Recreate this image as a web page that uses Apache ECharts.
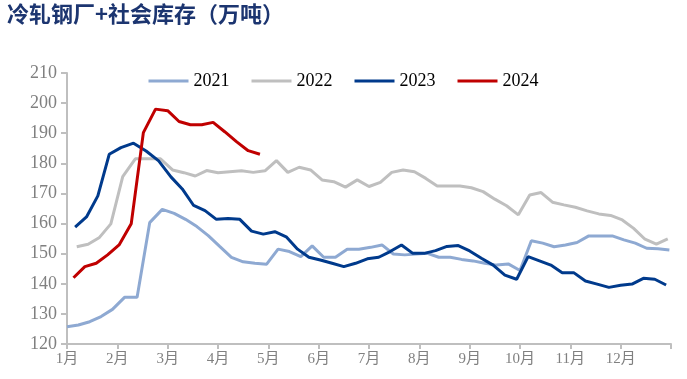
<!DOCTYPE html>
<html>
<head>
<meta charset="utf-8">
<script src="https://cdn.jsdelivr.net/npm/echarts@6/dist/echarts.min.js"></script>
<style>html,body{margin:0;padding:0;background:#fff}#c{width:687px;height:379px}</style>
</head>
<body>
<div id="c"></div>
<script>
const seriesNames = ['2021', '2022', '2023', '2024'];
const startDates = ['2021-01-01', '2022-01-07', '2023-01-06', '2024-01-05'];
const monthLabels = ['1月','2月','3月','4月','5月','6月','7月','8月','9月','10月','11月','12月'];
const v2021 = [125.7,126.3,127.4,129.1,131.5,135.5,135.5,160.3,164.7,163.4,161.4,159.0,156.0,152.4,148.8,147.3,146.8,146.5,151.5,150.7,149.0,152.6,148.8,148.8,151.5,151.5,152.1,152.9,149.9,149.6,149.9,150.1,148.8,148.8,148.1,147.6,146.8,146.2,146.6,144.4,154.3,153.5,152.3,152.9,153.7,155.9,155.9,155.9,154.6,153.5,151.8,151.6,151.2];
const v2022 = [152.3,153.1,155.4,159.9,175.6,181.5,181.5,181.5,177.8,176.9,175.8,177.6,176.9,177.2,177.5,177.0,177.5,180.9,177.0,178.7,177.8,174.5,173.9,172.1,174.5,172.3,173.7,177.0,177.8,177.2,175.0,172.5,172.5,172.5,171.9,170.6,168.1,165.9,162.9,169.5,170.3,167.1,166.2,165.4,164.2,163.2,162.7,161.2,158.4,154.8,153.2,154.9];
const v2023 = [158.8,162.2,169.2,183.0,185.2,186.7,184.1,180.8,175.5,171.5,166.0,164.3,161.4,161.7,161.4,157.5,156.5,157.3,155.6,151.5,148.8,147.9,146.8,145.7,146.8,148.3,148.8,150.7,152.9,150.1,150.1,151.0,152.4,152.7,150.9,148.5,146.2,142.9,141.5,149.0,147.6,146.2,143.7,143.7,140.9,139.9,138.8,139.5,139.9,141.8,141.5,139.6];
const v2024 = [142.0,145.7,146.8,149.6,152.9,159.9,190.2,198.0,197.5,193.9,192.8,192.8,193.6,190.5,187.2,184.2,183.0];
const valueLists = [v2021, v2022, v2023, v2024];
const colors = ['#8EA9D2', '#BFBFBF', '#003A8C', '#C00000'];

// weekly observations: convert each date to a position in months (0 = 1 Jan, 12 = end of Dec)
function monthPos(d) {
  const y = d.getUTCFullYear(), m = d.getUTCMonth();
  const dim = new Date(Date.UTC(y, m + 1, 0)).getUTCDate();
  return m + (d.getUTCDate() - 1) / dim;
}
function buildData(start, vals) {
  const t0 = Date.parse(start + 'T00:00:00Z');
  return vals.map((v, i) => [monthPos(new Date(t0 + i * 7 * 86400000)), v]);
}

const serif = "'Liberation Serif', 'Times New Roman', 'Noto Sans CJK SC', serif";
const chart = echarts.init(document.getElementById('c'));
chart.setOption({
  animation: false,
  title: {
    text: '冷轧钢厂+社会库存（万吨）',
    left: 7, top: 3, padding: 0,
    textStyle: { fontFamily: "'Noto Sans CJK SC'", fontSize: 22, fontWeight: 'bold', color: '#1C3570' }
  },
  legend: {
    data: seriesNames,
    top: 67, left: 'center',
    itemWidth: 40, itemHeight: 3, itemGap: 22,
    icon: 'rect',
    textStyle: { fontFamily: serif, fontSize: 18, color: '#000' }
  },
  grid: { left: 67, right: 16, top: 73, bottom: 35 },
  xAxis: {
    type: 'value', min: 0, max: 12, interval: 1,
    splitLine: { show: false },
    axisLine: { lineStyle: { color: '#BFBFBF', width: 2 } },
    axisTick: { length: 5, lineStyle: { color: '#BFBFBF', width: 2 } },
    axisLabel: {
      fontFamily: serif, fontSize: 15, color: '#808080', margin: 8,
      formatter: v => (v < 12 ? monthLabels[v] : '')
    }
  },
  yAxis: {
    type: 'value', min: 120, max: 210, interval: 10,
    splitLine: { show: false },
    axisLine: { show: true, lineStyle: { color: '#BFBFBF', width: 2 } },
    axisTick: { show: true, length: 6, lineStyle: { color: '#BFBFBF', width: 2 } },
    axisLabel: { fontFamily: serif, fontSize: 18, color: '#808080', margin: 10 }
  },
  series: seriesNames.map((n, k) => ({
    name: n, type: 'line', symbol: 'none', smooth: false,
    data: buildData(startDates[k], valueLists[k]),
    lineStyle: { width: 3, color: colors[k] },
    itemStyle: { color: colors[k] },
    z: 2 + k
  }))
});
</script>
</body>
</html>
